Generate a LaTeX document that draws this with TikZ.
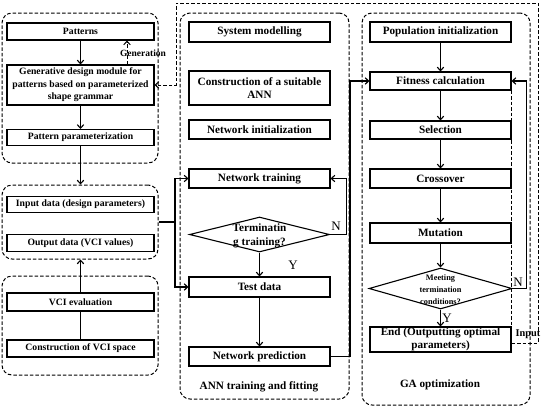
\documentclass[tikz,border=0pt]{standalone}
\usepackage{fontspec}
\setmainfont{Liberation Serif}
\usetikzlibrary{arrows.meta,shapes.geometric,calc}
\begin{document}
\begin{tikzpicture}[x=1pt,y=-1pt,
  box/.style={draw, line width=1.1pt, inner sep=0pt, align=center, font=\fontsize{11.2}{13}\selectfont\bfseries},
  lbox/.style={box, minimum width=147pt, font=\fontsize{9.7}{12.5}\selectfont\bfseries},
  mbox/.style={box, minimum width=141pt},
  grp/.style={draw, line width=1pt, dash pattern=on 3.5pt off 2pt, rounded corners=10pt, inner sep=0pt},
  arr/.style={line width=1.1pt, -{Straight Barb[length=3.5pt,width=6.5pt]}},
  ln/.style={line width=1.1pt},
  dashln/.style={line width=1pt, dash pattern=on 3.5pt off 2pt},
  dasharr/.style={dashln, -{Straight Barb[length=3.5pt,width=6.5pt]}},
  yn/.style={font=\fontsize{13}{13}\selectfont, inner sep=0pt},
  lbl/.style={font=\fontsize{11.2}{13}\selectfont\bfseries, inner sep=0pt},
  dia/.style={draw, diamond, line width=1.1pt, inner sep=0pt}
]
\useasboundingbox (0,0) rectangle (543,408);

% groups
\node[grp, minimum width=156pt, minimum height=150pt] (g1) at (80,88) {};
\node[grp, minimum width=156pt, minimum height=74pt] (g2) at (80,222) {};
\node[grp, minimum width=156pt, minimum height=99pt] (g3) at (80,325.5) {};
\node[grp, minimum width=169pt, minimum height=386pt] (gann) at (264.5,206) {};
\node[grp, minimum width=168pt, minimum height=392pt] (gga) at (446,209) {};

% left column
\node[lbox, minimum height=17pt] (pat) at (80.5,31.5) {Patterns};
\node[lbox, minimum height=40pt] (gen) at (80.5,85) {Generative design module for\\patterns based on parameterized\\shape grammar};
\node[lbox, minimum height=16pt] (pp) at (80.5,137.5) {Pattern parameterization};
\node[lbox, minimum height=16pt] (inp) at (80.5,204.5) {Input data (design parameters)};
\node[lbox, minimum height=17pt] (outp) at (80.5,243) {Output data (VCI values)};
\node[lbox, minimum height=18pt] (vci) at (80.5,302) {VCI evaluation};
\node[lbox, minimum height=17pt] (cvs) at (80.5,348.5) {Construction of VCI space};
\node[font=\fontsize{9.5}{11}\selectfont\bfseries, inner sep=0pt] (genlbl) at (143,53) {Generation};

% ANN column
\node[mbox, minimum height=20pt] (sm) at (259.5,32) {System modelling};
\node[mbox, minimum height=34pt] (can) at (259.5,88) {Construction of a suitable\\ANN};
\node[mbox, minimum height=19pt] (ni) at (259.5,129.5) {Network initialization};
\node[mbox, minimum height=19pt] (nt) at (259.5,178.5) {Network training};
\node[dia, minimum width=140pt, minimum height=35pt] (d1) at (259.5,234.5) {};
\node[lbl, align=center, font=\fontsize{11.2}{14}\selectfont\bfseries] (d1t) at (259.5,236) {Terminatin\\g training?};
\node[mbox, minimum height=20pt] (td) at (259.5,287) {Test data};
\node[mbox, minimum height=19pt] (np) at (259.5,356.5) {Network prediction};
\node[lbl] (annlbl) at (259,387) {ANN training and fitting};
\node[yn] (y1) at (293,265) {Y};
\node[yn] (n1) at (336,226) {N};

% GA column
\node[mbox, minimum height=20pt] (popi) at (440.5,32) {Population initialization};
\node[mbox, minimum height=18pt] (fit) at (440.5,81) {Fitness calculation};
\node[mbox, minimum height=18pt] (sel) at (440.5,130) {Selection};
\node[mbox, minimum height=19pt] (cro) at (440.5,178.5) {Crossover};
\node[mbox, minimum height=20pt] (mut) at (440.5,233) {Mutation};
\node[dia, minimum width=143pt, minimum height=41pt] (d2) at (440.5,288.5) {};
\node[lbl, align=center, font=\fontsize{8.3}{12.3}\selectfont\bfseries] (d2t) at (440.5,289.5) {Meeting\\termination\\conditions?};
\node[mbox, minimum height=25pt] (endb) at (440.5,339.5) {End (Outputting optimal\\parameters)};
\node[lbl] (galbl) at (440,385) {GA optimization};
\node[yn] (y2) at (447,318) {Y};
\node[yn] (n2) at (518,282) {N};
\node[font=\fontsize{10.3}{12}\selectfont\bfseries, inner sep=0pt] (inlbl) at (528,334) {Input};

% coordinates
\coordinate (jx) at (175,222);
\coordinate (npx) at (350,0);
\coordinate (inR) at (538,343);
\coordinate (topR) at (538,3);
\coordinate (topL) at (176,3);
\coordinate (genR) at (176,85);

% left connectors
\draw[arr] (pat) -- (gen);
\draw[dasharr] ([xshift=46.5pt]gen.north) -- ([xshift=46.5pt]pat.south);
\draw[arr] (gen) -- (pp);
\draw[arr] (pp.south) -- (pp.south |- g2.north);
\draw[ln] (cvs.north) -- (vci.south);
\draw[arr] (vci.north) -- (vci.north |- g2.south);
\draw[ln] (g2.east) -- (jx);
\draw[arr] (jx) |- (nt.west);
\draw[arr] (jx) |- (td.west);

% ANN connectors
\draw[arr] (d1.south) -- (td.north);
\draw[arr] (d1.east) -- ++(16,0) |- (nt.east);
\draw[arr] (td) -- (np);
\draw[arr] (np.east) -- (np.east -| npx) |- (fit.west);

% GA connectors
\draw[arr] (popi) -- (fit);
\draw[arr] (fit) -- (sel);
\draw[arr] (sel) -- (cro);
\draw[arr] (cro) -- (mut);
\draw[arr] (mut.south) -- (d2.north);
\draw[arr] (d2.south) -- (endb.north);
\draw[arr] (d2.east) -- ++(14,0) |- (fit.east);
\draw[dashln, line width=0.7pt] (fit.south east) -- (endb.north east);

% input feedback
\draw[dasharr] (endb.east |- inR) -- (inR) -- (topR) -- (topL) -- (genR) -- (gen.east);
\end{tikzpicture}
\end{document}
